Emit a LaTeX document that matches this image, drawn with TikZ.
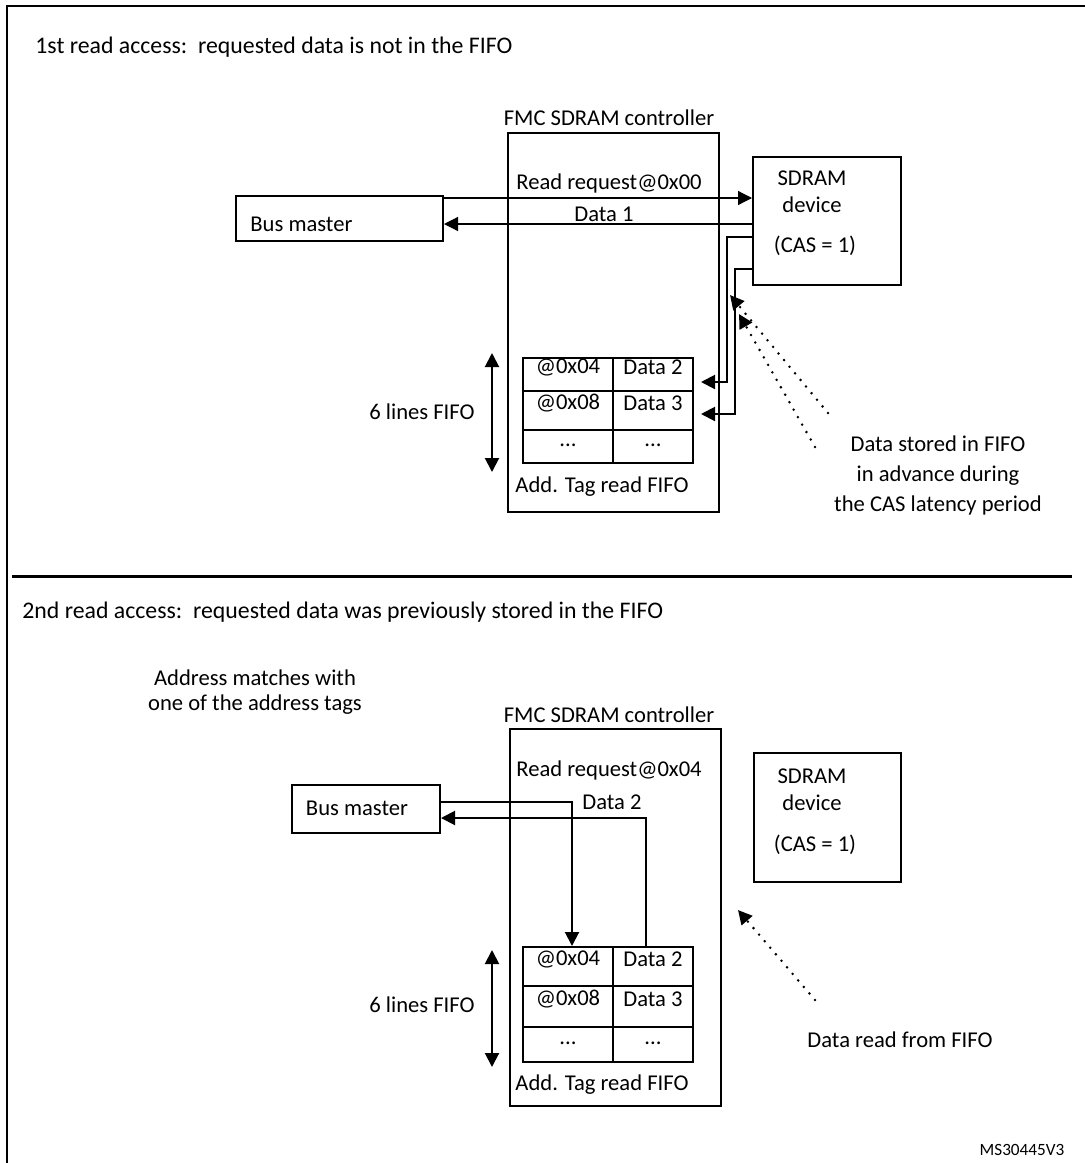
\documentclass[tikz,border=0pt]{standalone}
\usepackage{fontspec}
\setmainfont{Carlito}
\usetikzlibrary{arrows.meta,fit,calc}
\begin{document}
\begin{tikzpicture}[x=0.5pt,y=-0.5pt,
  font=\fontsize{11.3}{13.6}\selectfont,
  box/.style={draw, line width=1pt, inner sep=0pt},
  lbl/.style={inner sep=0pt},
  tip/.style={-{Triangle[length=7pt,width=7pt]}},
  thinarrow/.style={line width=0.6pt, tip},
  thickarrow/.style={line width=1pt, tip},
  dots/.style={line width=1.4pt, dash pattern=on 0pt off 4.3pt, line cap=round, -{Triangle[length=7pt,width=7pt]}}]
\useasboundingbox (0,0) rectangle (1085,1163);
% frame
\draw[line width=1pt] (7,1163) coordinate (fbl) -- (7,6) coordinate (ftl) -- (1085,6) coordinate (ftr);
\draw[line width=1.5pt] (12,576) coordinate (sepl) -- (1072,576) coordinate (sepr);

% ===== top section =====
\node[lbl, anchor=west, font=\fontsize{11.9}{14}\selectfont] (t1) at (35,47) {1st read access:\ \ requested data is not in the FIFO};
\node[lbl] (c1lab) at (609,118) {FMC SDRAM controller};
\node[box, fit={(508,133) (719,512)}] (ctrl1) {};
\node[box, fit={(753,157) (901,285)}] (sdram1) {};
\node[lbl] (s1a) at (812,178) {SDRAM};
\node[lbl] (s1b) at (812,205) {device};
\node[lbl] (s1c) at (815,246) {(CAS = 1)};
\node[box, fit={(236,196) (443,241)}] (bm1) {};
\node[lbl, anchor=west] (bm1t) at (250,224) {Bus master};

\draw[thinarrow] (bm1.east |- 0,198) -- (sdram1.west |- 0,198);
\draw[thinarrow] (sdram1.west |- 0,224) -- (bm1.east |- 0,224);
\node[lbl] (rq1) at (609,183) {Read request@0x00};
\node[lbl] (d1) at (604,214) {Data 1};

% fifo top
\node[box, fit={(523,358) (613,391)}] (a1) {@0x04};
\node[box, fit={(613,358) (693,391)}] (b1) {Data 2};
\node[box, fit={(523,391) (613,430)}] (a2) {@0x08};
\node[box, fit={(613,391) (693,430)}] (b2) {Data 3};
\node[box, fit={(523,430) (613,463)}] (a3) {...};
\node[box, fit={(613,430) (693,463)}] (b3) {...};
\node[lbl] (tag1) at (602,487) {Add. Tag read FIFO};
\coordinate (da1) at (492,353);
\coordinate (da2) at (492,472);
\draw[line width=1pt, {Triangle[length=7pt,width=7pt]}-{Triangle[length=7pt,width=7pt]}] (da1) -- (da2);
\node[lbl] (fl1) at (422,412) {6 lines FIFO};

\draw[thickarrow, shorten >=3.5pt] (sdram1.west |- 0,237) -| (727,382) -- (b1.east |- 0,382);
\draw[thickarrow, shorten >=3.5pt] (sdram1.west |- 0,269) -| (735,414) -- (b2.east |- 0,414);

\coordinate (dt1) at (730,295);
\coordinate (dt2) at (739,314);
\draw[dots] (828,413) coordinate (ds1) -- (dt1);
\draw[dots] (815,447) coordinate (ds2) -- (dt2);
\node[lbl, align=center, font=\fontsize{11.3}{15}\selectfont] (note1) at (938,475) {Data stored in FIFO\\in advance during\\the CAS latency period};

% ===== bottom section =====
\node[lbl, anchor=west, font=\fontsize{11.9}{14}\selectfont] (t2) at (22,612) {2nd read access:\ \ requested data was previously stored in the FIFO};
\node[lbl, align=center, font=\fontsize{11.3}{12.6}\selectfont] (am) at (255,692) {Address matches with\\one of the address tags};
\node[lbl] (c2lab) at (609,715) {FMC SDRAM controller};
\node[box, fit={(510,729) (721,1106)}] (ctrl2) {};
\node[box, fit={(754,753) (901,882)}] (sdram2) {};
\node[lbl] (s2a) at (812,776) {SDRAM};
\node[lbl] (s2b) at (812,803) {device};
\node[lbl] (s2c) at (815,845) {(CAS = 1)};
\node[box, fit={(292,785) (440,833)}] (bm2) {};
\node[lbl] (bm2t) at (357,808) {Bus master};
\node[lbl] (rq2) at (609,770) {Read request@0x04};
\node[lbl] (d2) at (612,802) {Data 2};

\node[box, fit={(523,947) (613,986)}] (c1) {@0x04};
\node[box, fit={(613,947) (693,986)}] (e1) {Data 2};
\node[box, fit={(523,986) (613,1027)}] (c2) {@0x08};
\node[box, fit={(613,986) (693,1027)}] (e2) {Data 3};
\node[box, fit={(523,1027) (613,1062)}] (c3) {...};
\node[box, fit={(613,1027) (693,1062)}] (e3) {...};
\node[lbl] (tag2) at (602,1085) {Add. Tag read FIFO};
\coordinate (db1) at (492,950);
\coordinate (db2) at (492,1067);
\draw[line width=1pt, {Triangle[length=7pt,width=7pt]}-{Triangle[length=7pt,width=7pt]}] (db1) -- (db2);
\node[lbl] (fl2) at (422,1005) {6 lines FIFO};

\draw[thickarrow] (bm2.east |- 0,802) -| (c1.north -| 572,0);
\draw[thickarrow] (e1.north -| 646,0) |- (bm2.east |- 0,818);

\coordinate (dt3) at (738,910);
\draw[dots] (815,1000) coordinate (ds3) -- (dt3);
\node[lbl] (note2) at (900,1040) {Data read from FIFO};

\node[lbl, font=\fontsize{8.6}{10}\selectfont] (ms) at (1022,1150) {MS30445V3};
\end{tikzpicture}
\end{document}
